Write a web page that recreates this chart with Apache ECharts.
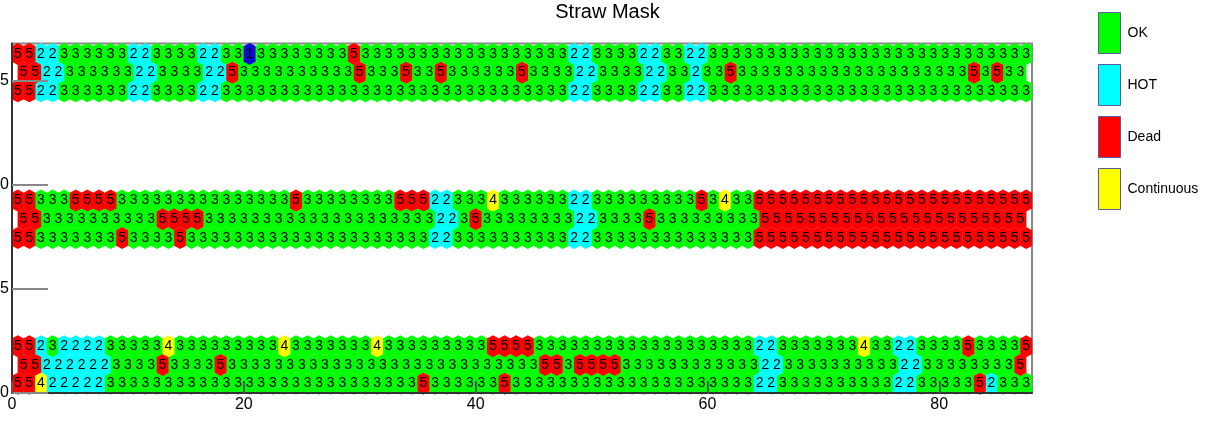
<!DOCTYPE html>
<html>
<head>
<meta charset="utf-8">
<script src="https://cdn.jsdelivr.net/npm/echarts@6/dist/echarts.min.js"></script>
<style>
  html, body { margin: 0; padding: 0; background: #fff; }
  #main { width: 1215px; height: 438px; }
</style>
</head>
<body>
<div id="main"></div>
<script>
// straw status per row (1 = other, 2 = HOT, 3 = OK, 4 = Continuous, 5 = Dead)
var rowT1 = [5,5,2,2,3,3,3,3,3,3, 2,2,3,3,3,3,2,2,3,3, 1,3,3,3,3,3,3,3,3,5, 3,3,3,3,3,3,3,3,3,3,
             3,3,3,3,3,3,3,3,2,2, 3,3,3,3,2,2,3,3,2,2, 3,3,3,3,3,3,3,3,3,3, 3,3,3,3,3,3,3,3,3,3, 3,3,3,3,3,3,3,3];
var rowT2 = [5,5,2,2,3,3,3,3,3,3, 2,2,3,3,3,3,2,2,5,3, 3,3,3,3,3,3,3,3,3,5, 3,3,3,5,3,3,5,3,3,3,
             3,3,3,5,3,3,3,3,2,2, 3,3,3,3,2,2,3,3,2,3, 3,5,3,3,3,3,3,3,3,3, 3,3,3,3,3,3,3,3,3,3, 3,3,5,3,5,3,3];
var rowT3 = [5,5,2,2,3,3,3,3,3,3, 2,2,3,3,3,3,2,2,3,3, 3,3,3,3,3,3,3,3,3,3, 3,3,3,3,3,3,3,3,3,3,
             3,3,3,3,3,3,3,3,2,2, 3,3,3,3,2,2,3,3,2,2, 3,3,3,3,3,3,3,3,3,3, 3,3,3,3,3,3,3,3,3,3, 3,3,3,3,3,3,3,3];
var rowM1 = [5,5,3,3,3,5,5,5,5,3, 3,3,3,3,3,3,3,3,3,3, 3,3,3,3,5,3,3,3,3,3, 3,3,3,5,5,5,2,2,3,3,
             3,4,3,3,3,3,3,3,2,2, 3,3,3,3,3,3,3,3,3,5, 3,4,3,3,5,5,5,5,5,5, 5,5,5,5,5,5,5,5,5,5, 5,5,5,5,5,5,5,5];
var rowM2 = [5,5,3,3,3,3,3,3,3,3, 3,3,5,5,5,5,3,3,3,3, 3,3,3,3,3,3,3,3,3,3, 3,3,3,3,3,3,2,2,3,5,
             3,3,3,3,3,3,3,3,2,2, 3,3,3,3,5,3,3,3,3,3, 3,3,3,3,5,5,5,5,5,5, 5,5,5,5,5,5,5,5,5,5, 5,5,5,5,5,5,5];
var rowM3 = [5,5,3,3,3,3,3,3,3,5, 3,3,3,3,5,3,3,3,3,3, 3,3,3,3,3,3,3,3,3,3, 3,3,3,3,3,3,2,2,3,3,
             3,3,3,3,3,3,3,3,2,2, 3,3,3,3,3,3,3,3,3,3, 3,3,3,3,5,5,5,5,5,5, 5,5,5,5,5,5,5,5,5,5, 5,5,5,5,5,5,5,5];
var rowB1 = [5,5,2,3,2,2,2,2,3,3, 3,3,3,4,3,3,3,3,3,3, 3,3,3,4,3,3,3,3,3,3, 3,4,3,3,3,3,3,3,3,3,
             3,5,5,5,5,3,3,3,3,3, 3,3,3,3,3,3,3,3,3,3, 3,3,3,3,2,2,3,3,3,3, 3,3,3,4,3,3,2,2,3,3, 3,3,5,3,3,3,3,5];
var rowB2 = [5,5,2,2,2,2,2,2,3,3, 3,3,5,3,3,3,3,5,3,3, 3,3,3,3,3,3,3,3,3,3, 3,3,3,3,3,3,3,3,3,3,
             3,3,3,3,3,5,5,3,5,5, 5,5,3,3,3,3,3,3,3,3, 3,3,3,3,2,2,3,3,3,3, 3,3,3,3,3,3,2,2,3,3, 3,3,3,3,3,3,5];
var rowB3 = [5,5,4,2,2,2,2,2,3,3, 3,3,3,3,3,3,3,3,3,3, 3,3,3,3,3,3,3,3,3,3, 3,3,3,3,3,5,3,3,3,3,
             3,3,5,3,3,3,3,3,3,3, 3,3,3,3,3,3,3,3,3,3, 3,3,3,3,2,2,3,3,3,3, 3,3,3,3,3,3,2,2,3,3, 3,3,3,5,2,3,3,3];

// rows from bottom to top, their y and the x of the first straw
var rows  = [rowB3, rowB2, rowB1, rowM3, rowM2, rowM1, rowT3, rowT2, rowT1];
var rowY  = [0.45, 1.35, 2.25, 7.45, 8.35, 9.25, 14.5, 15.4, 16.3];
var rowX0 = [0.5, 1.0, 0.5, 0.5, 1.0, 0.5, 0.5, 1.0, 0.5];

var statusCodes  = [3, 2, 5, 4, 1];
var statusNames  = ['OK', 'HOT', 'Dead', 'Continuous', 'Other'];
var statusColors = ['#00ff00', '#00ffff', '#ff0000', '#ffff00', '#0c0cd6'];

var hexPath = 'path://M5,0 L10,1.45 L10,8.55 L5,10 L0,8.55 L0,1.45 Z';

var points = statusCodes.map(function () { return []; });
rows.forEach(function (row, r) {
  row.forEach(function (v, i) {
    points[statusCodes.indexOf(v)].push([rowX0[r] + i, rowY[r], v]);
  });
});

var myChart = echarts.init(document.getElementById('main'));

var option = {
  animation: false,
  title: {
    text: 'Straw Mask',
    left: 'center',
    top: 2,
    padding: 0,
    textStyle: { fontSize: 20, fontWeight: 'normal', color: '#000', fontFamily: 'Liberation Sans' }
  },
  legend: {
    data: ['OK', 'HOT', 'Dead', 'Continuous'],
    orient: 'vertical',
    left: 1098,
    top: 12,
    padding: 0,
    itemWidth: 22,
    itemHeight: 41,
    itemGap: 10,
    icon: 'rect',
    itemStyle: { borderColor: '#5a5a9e', borderWidth: 1 },
    textStyle: { fontSize: 14, color: '#000', fontFamily: 'Liberation Sans', padding: [0, 0, 0, 2] },
    selectedMode: false
  },
  grid: {
    left: 12, right: 183, top: 43.5, bottom: 45,
    show: true, borderColor: '#888', borderWidth: 2,
    containLabel: false,
    outerBoundsMode: 'none'
  },
  xAxis: {
    type: 'value', min: 0, max: 88, interval: 20, z: 5,
    axisLine: { lineStyle: { color: '#333', width: 2 } },
    axisTick: { inside: true, length: 12, lineStyle: { color: '#555', width: 2 }, customValues: [0, 20, 40, 60, 80] },
    axisLabel: { color: '#000', fontSize: 16, margin: 4, fontFamily: 'Liberation Sans', customValues: [0, 20, 40, 60, 80] },
    splitLine: { show: false }
  },
  yAxis: {
    type: 'value', min: 0, max: 16.8, interval: 5, z: 5,
    axisLine: { lineStyle: { color: '#333', width: 2 } },
    axisTick: { inside: true, length: 36, lineStyle: { color: '#888', width: 2 }, customValues: [0, 5, 10, 15] },
    axisLabel: { color: '#000', fontSize: 16, margin: 3, fontFamily: 'Liberation Sans', customValues: [0, 5, 10, 15] },
    splitLine: { show: false }
  },
  series: statusNames.map(function (name, k) {
    return {
      name: name,
      type: 'scatter',
      symbol: hexPath,
      symbolSize: [12, 22],
      itemStyle: { color: statusColors[k], opacity: 1 },
      label: {
        show: true,
        position: 'inside',
        formatter: function (p) { return p.value[2]; },
        color: '#000',
        fontSize: 14,
        fontFamily: 'Liberation Sans'
      },
      emphasis: { disabled: true },
      data: points[k]
    };
  })
};

myChart.setOption(option);
</script>
</body>
</html>
